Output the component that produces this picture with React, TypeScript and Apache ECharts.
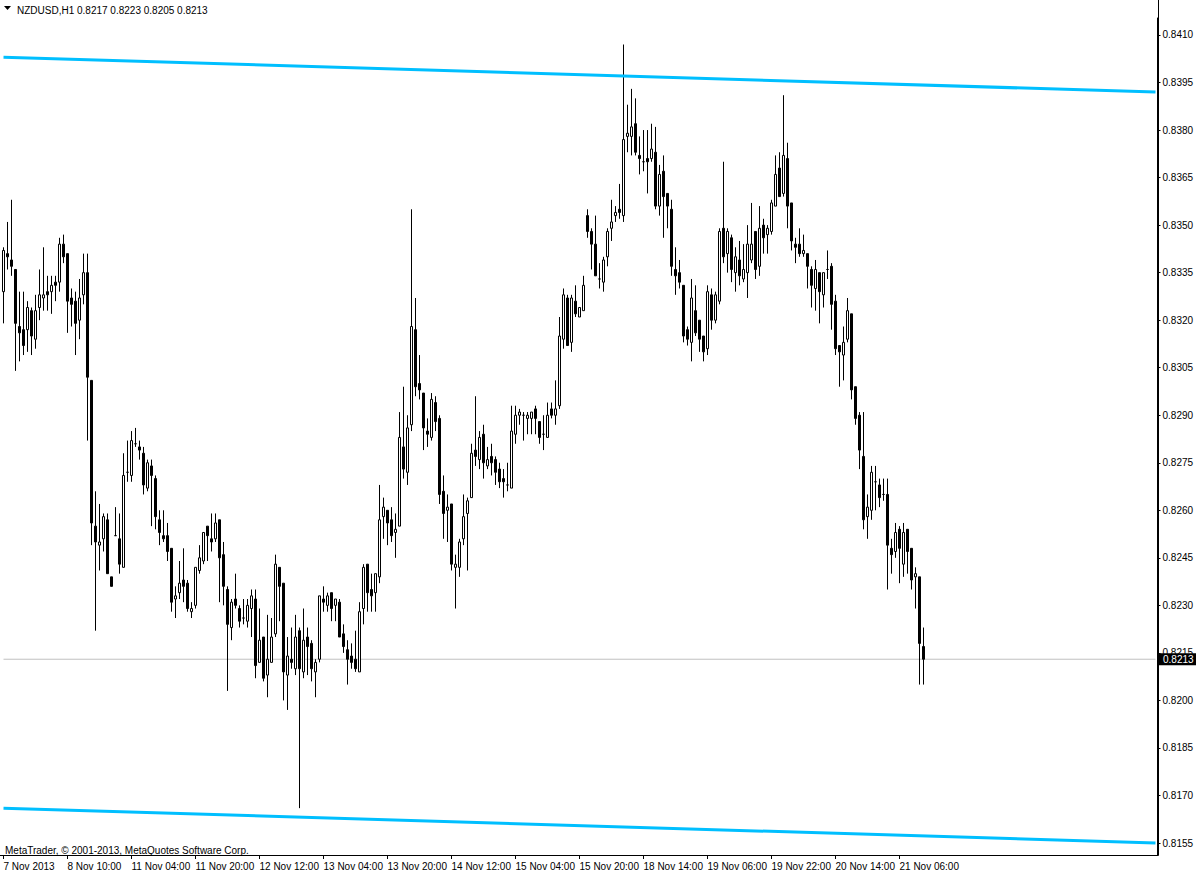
import { useEffect, useRef } from 'react';
import * as echarts from 'echarts';

// ---- data (NZDUSD, H1) ----
const open = [
  0.8329,0.8341,0.8339,0.8336,0.8318,0.8317,0.8317,0.8323,0.8314,0.8324,
  0.8327,0.8329,0.8329,0.8332,0.8332,0.8344,0.8341,0.8327,0.8326,0.8320,
  0.8328,0.8335,0.8301,0.8255,0.8249,0.8251,0.8257,0.8239,0.8252,0.8251,
  0.8242,0.8272,0.8271,0.8281,0.8280,0.8278,0.8267,0.8274,0.8270,0.8257,
  0.8252,0.8252,0.8248,0.8232,0.8234,0.8238,0.8237,0.8228,0.8230,0.8241,
  0.8244,0.8255,0.8251,0.8251,0.8257,0.8246,0.8235,0.8223,0.8232,0.8229,
  0.8226,0.8225,0.8229,0.8232,0.8212,0.8220,0.8208,0.8212,0.8221,0.8242,
  0.8237,0.8208,0.8213,0.8210,0.8222,0.8209,0.8220,0.8218,0.8209,0.8213,
  0.8232,0.8230,0.8234,0.8230,0.8231,0.8221,0.8216,0.8214,0.8213,0.8209,
  0.8229,0.8243,0.8235,0.8234,0.8239,0.8258,0.8260,0.8257,0.8253,0.8255,
  0.8280,0.8272,0.8287,0.8317,0.8300,0.8297,0.8285,0.8283,0.8294,0.8289,
  0.8266,0.8260,0.8262,0.8242,0.8242,0.8251,0.8259,0.8264,0.8279,0.8276,
  0.8284,0.8274,0.8277,0.8276,0.8273,0.8270,0.8268,0.8267,0.8284,0.8290,
  0.8290,0.8289,0.8289,0.8292,0.8288,0.8284,0.8283,0.8292,0.8290,0.8293,
  0.8314,0.8327,0.8313,0.8326,0.8321,0.8323,0.8353,0.8348,0.8344,0.8333,
  0.8332,0.8340,0.8349,0.8353,0.8355,0.8353,0.8378,0.8378,0.8382,0.8372,
  0.8370,0.8371,0.8371,0.8373,0.8356,0.8367,0.8360,0.8355,0.8336,0.8335,
  0.8331,0.8317,0.8313,0.8323,0.8320,0.8315,0.8311,0.8328,0.8320,0.8326,
  0.8349,0.8341,0.8346,0.8335,0.8339,0.8333,0.8335,0.8339,0.8348,0.8337,
  0.8350,0.8347,0.8348,0.8356,0.8368,0.8360,0.8371,0.8357,0.8344,0.8344,
  0.8341,0.8341,0.8336,0.8330,0.8335,0.8328,0.8336,0.8337,0.8326,0.8312,
  0.8309,0.8314,0.8322,0.8299,0.8290,0.8277,0.8258,0.8260,0.8269,0.8268,
  0.8265,0.8265,0.8248,0.8247,0.8254,0.8243,0.8254,0.8248,0.8239,0.8239,
  0.8217,
];
const high = [
  0.8343,0.8351,0.8358,0.8336,0.8329,0.8329,0.8326,0.8324,0.8328,0.8336,
  0.8343,0.8334,0.8334,0.8334,0.8346,0.8347,0.8341,0.8330,0.8329,0.8333,
  0.8341,0.8341,0.8301,0.8266,0.8262,0.8259,0.8259,0.8239,0.8261,0.8259,
  0.8278,0.8282,0.8285,0.8286,0.8282,0.8280,0.8276,0.8276,0.8271,0.8260,
  0.8260,0.8256,0.8248,0.8236,0.8244,0.8248,0.8238,0.8231,0.8242,0.8249,
  0.8253,0.8255,0.8259,0.8259,0.8257,0.8250,0.8236,0.8232,0.8240,0.8230,
  0.8232,0.8232,0.8235,0.8235,0.8229,0.8220,0.8227,0.8226,0.8246,0.8242,
  0.8237,0.8220,0.8223,0.8227,0.8223,0.8229,0.8223,0.8219,0.8213,0.8233,
  0.8236,0.8234,0.8234,0.8232,0.8232,0.8224,0.8219,0.8218,0.8222,0.8231,
  0.8243,0.8243,0.8240,0.8240,0.8268,0.8264,0.8260,0.8261,0.8259,0.8291,
  0.8299,0.8290,0.8355,0.8327,0.8309,0.8297,0.8289,0.8297,0.8296,0.8290,
  0.8271,0.8265,0.8262,0.8246,0.8251,0.8265,0.8264,0.8281,0.8296,0.8285,
  0.8287,0.8280,0.8281,0.8277,0.8275,0.8273,0.8275,0.8293,0.8293,0.8292,
  0.8291,0.8291,0.8291,0.8293,0.8288,0.8290,0.8294,0.8294,0.8301,0.8321,
  0.8330,0.8328,0.8328,0.8331,0.8324,0.8334,0.8355,0.8349,0.8353,0.8338,
  0.8340,0.8349,0.8358,0.8356,0.8363,0.8407,0.8388,0.8393,0.8390,0.8378,
  0.8380,0.8380,0.8382,0.8381,0.8369,0.8372,0.8360,0.8358,0.8343,0.8339,
  0.8331,0.8318,0.8333,0.8331,0.8320,0.8315,0.8331,0.8330,0.8329,0.8349,
  0.8370,0.8349,0.8347,0.8343,0.8345,0.8344,0.8350,0.8357,0.8348,0.8356,
  0.8352,0.8350,0.8358,0.8372,0.8373,0.8391,0.8376,0.8357,0.8346,0.8349,
  0.8347,0.8341,0.8337,0.8339,0.8335,0.8335,0.8342,0.8338,0.8328,0.8312,
  0.8318,0.8327,0.8322,0.8299,0.8291,0.8291,0.8265,0.8274,0.8274,0.8270,
  0.8270,0.8270,0.8251,0.8256,0.8255,0.8256,0.8254,0.8248,0.8242,0.8239,
  0.8223,
];
const low = [
  0.8319,0.8336,0.8334,0.8304,0.8307,0.8309,0.8310,0.8309,0.8311,0.8320,
  0.8323,0.8323,0.8322,0.8326,0.8329,0.8338,0.8316,0.8318,0.8309,0.8314,
  0.8325,0.8282,0.8249,0.8222,0.8241,0.8247,0.8240,0.8236,0.8252,0.8240,
  0.8242,0.8269,0.8269,0.8280,0.8276,0.8265,0.8266,0.8255,0.8254,0.8249,
  0.8250,0.8244,0.8228,0.8226,0.8232,0.8231,0.8228,0.8226,0.8229,0.8240,
  0.8243,0.8244,0.8247,0.8250,0.8231,0.8230,0.8203,0.8219,0.8229,0.8223,
  0.8224,0.8223,0.8220,0.8207,0.8212,0.8206,0.8201,0.8212,0.8220,0.8225,
  0.8200,0.8197,0.8210,0.8208,0.8166,0.8207,0.8208,0.8206,0.8201,0.8212,
  0.8228,0.8228,0.8225,0.8225,0.8220,0.8215,0.8205,0.8210,0.8209,0.8209,
  0.8224,0.8228,0.8228,0.8228,0.8237,0.8251,0.8249,0.8250,0.8245,0.8255,
  0.8270,0.8268,0.8285,0.8296,0.8295,0.8279,0.8280,0.8282,0.8285,0.8262,
  0.8251,0.8250,0.8241,0.8229,0.8239,0.8249,0.8241,0.8264,0.8274,0.8273,
  0.8270,0.8273,0.8271,0.8268,0.8267,0.8264,0.8266,0.8267,0.8281,0.8287,
  0.8282,0.8284,0.8284,0.8284,0.8281,0.8279,0.8283,0.8289,0.8287,0.8292,
  0.8311,0.8312,0.8310,0.8321,0.8321,0.8323,0.8346,0.8336,0.8334,0.8330,
  0.8329,0.8337,0.8345,0.8351,0.8352,0.8351,0.8373,0.8372,0.8372,0.8366,
  0.8367,0.8360,0.8370,0.8355,0.8353,0.8346,0.8349,0.8334,0.8328,0.8330,
  0.8313,0.8312,0.8307,0.8315,0.8310,0.8307,0.8309,0.8317,0.8319,0.8325,
  0.8338,0.8335,0.8332,0.8329,0.8331,0.8332,0.8327,0.8338,0.8333,0.8334,
  0.8341,0.8341,0.8347,0.8356,0.8359,0.8359,0.8349,0.8342,0.8338,0.8340,
  0.8340,0.8330,0.8324,0.8323,0.8319,0.8324,0.8333,0.8317,0.8309,0.8299,
  0.8301,0.8313,0.8295,0.8287,0.8273,0.8254,0.8251,0.8257,0.8260,0.8261,
  0.8263,0.8235,0.8240,0.8245,0.8237,0.8239,0.8240,0.8235,0.8229,0.8205,
  0.8205,
];
const close = [
  0.8342,0.8340,0.8337,0.8319,0.8316,0.8312,0.8324,0.8315,0.8323,0.8328,
  0.8328,0.8328,0.8331,0.8331,0.8344,0.8340,0.8326,0.8325,0.8319,0.8327,
  0.8335,0.8302,0.8256,0.8250,0.8250,0.8258,0.8240,0.8236,0.8252,0.8243,
  0.8271,0.8272,0.8282,0.8281,0.8279,0.8268,0.8275,0.8271,0.8258,0.8253,
  0.8251,0.8247,0.8231,0.8233,0.8237,0.8236,0.8229,0.8229,0.8242,0.8245,
  0.8253,0.8252,0.8250,0.8256,0.8245,0.8236,0.8224,0.8231,0.8230,0.8225,
  0.8226,0.8230,0.8233,0.8211,0.8219,0.8207,0.8213,0.8220,0.8243,0.8236,
  0.8209,0.8214,0.8212,0.8220,0.8210,0.8219,0.8217,0.8210,0.8212,0.8233,
  0.8231,0.8233,0.8229,0.8232,0.8220,0.8217,0.8213,0.8212,0.8210,0.8228,
  0.8242,0.8234,0.8233,0.8240,0.8257,0.8261,0.8256,0.8252,0.8254,0.8283,
  0.8273,0.8286,0.8318,0.8299,0.8298,0.8286,0.8284,0.8295,0.8288,0.8265,
  0.8259,0.8261,0.8243,0.8243,0.8250,0.8258,0.8263,0.8278,0.8277,0.8283,
  0.8275,0.8276,0.8275,0.8272,0.8269,0.8269,0.8268,0.8285,0.8290,0.8291,
  0.8290,0.8290,0.8291,0.8289,0.8283,0.8284,0.8290,0.8290,0.8292,0.8315,
  0.8328,0.8312,0.8327,0.8322,0.8324,0.8331,0.8348,0.8344,0.8334,0.8333,
  0.8339,0.8348,0.8351,0.8354,0.8354,0.8377,0.8379,0.8381,0.8373,0.8371,
  0.8370,0.8370,0.8374,0.8356,0.8366,0.8359,0.8356,0.8337,0.8334,0.8332,
  0.8315,0.8314,0.8327,0.8316,0.8314,0.8310,0.8329,0.8320,0.8328,0.8348,
  0.8340,0.8348,0.8336,0.8340,0.8334,0.8336,0.8344,0.8344,0.8336,0.8349,
  0.8346,0.8349,0.8357,0.8366,0.8359,0.8372,0.8356,0.8345,0.8343,0.8341,
  0.8342,0.8337,0.8331,0.8336,0.8329,0.8335,0.8336,0.8325,0.8311,0.8310,
  0.8313,0.8323,0.8298,0.8289,0.8279,0.8257,0.8261,0.8272,0.8269,0.8264,
  0.8265,0.8249,0.8246,0.8253,0.8248,0.8253,0.8247,0.8238,0.8240,0.8218,
  0.8213,
];

const timeLabels = [
  '7 Nov 2013', '8 Nov 10:00', '11 Nov 04:00', '11 Nov 20:00', '12 Nov 12:00',
  '13 Nov 04:00', '13 Nov 20:00', '14 Nov 12:00', '15 Nov 04:00', '15 Nov 20:00',
  '18 Nov 14:00', '19 Nov 06:00', '19 Nov 22:00', '20 Nov 14:00', '21 Nov 06:00',
];
const LABEL_STEP = 16; // one time label every 16 bars
const SLOT_COUNT = 289; // bars + empty chart shift on the right

const priceTicks = [
  0.8410, 0.8395, 0.8380, 0.8365, 0.8350, 0.8335, 0.8320, 0.8305, 0.8290,
  0.8275, 0.8260, 0.8245, 0.8230, 0.8215, 0.8200, 0.8185, 0.8170, 0.8155,
];
const yRange = [0.8151213, 0.8415365];

const channelUpper = [0.8403, 0.8392];
const channelLower = [0.8166, 0.8155];

const symbol = 'NZDUSD,H1';
const copyright = 'MetaTrader, © 2001-2013, MetaQuotes Software Corp.';

const FONT = '"Liberation Sans", Arial, sans-serif';

export default function App() {
  const ref = useRef<HTMLDivElement>(null);

  useEffect(() => {
    const el = ref.current;
    if (!el) return;
    const chart = echarts.init(el, null, { renderer: 'svg' });

    const last = open.length - 1;
    const bid = close[last];
    const categories = Array.from({ length: SLOT_COUNT }, (_, i) => String(i));
    const ohlc = open.map((o, i) => [o, close[i], low[i], high[i]]);
    const showLabel = (i: number) => i % LABEL_STEP === 0 && i / LABEL_STEP < timeLabels.length;

    chart.setOption({
      animation: false,
      backgroundColor: '#ffffff',
      textStyle: { fontFamily: FONT },
      grid: { left: 1.5, right: 40.5, top: 18, bottom: 21, containLabel: false },
      xAxis: {
        type: 'category',
        data: categories,
        boundaryGap: true,
        axisLine: { show: true, lineStyle: { color: '#000', width: 1 } },
        axisTick: { show: true, alignWithLabel: true, length: 4, interval: showLabel, lineStyle: { color: '#000' } },
        axisLabel: {
          interval: showLabel,
          formatter: (_v: string, i: number) => timeLabels[i / LABEL_STEP] ?? '',
          align: 'left',
          margin: 6,
          color: '#000',
          fontSize: 10,
          fontFamily: FONT,
        },
        splitLine: { show: false },
      },
      yAxis: {
        type: 'value',
        position: 'right',
        min: yRange[0],
        max: yRange[1],
        axisLine: { show: true, lineStyle: { color: '#000', width: 1 } },
        axisTick: { show: true, length: 3, customValues: priceTicks, lineStyle: { color: '#000' } },
        axisLabel: {
          customValues: priceTicks,
          formatter: (v: number) => v.toFixed(4),
          margin: 5,
          color: '#000',
          fontSize: 10,
          fontFamily: FONT,
        },
        splitLine: { show: false },
      },
      series: [
        {
          type: 'line',
          data: [[0, bid], [SLOT_COUNT - 1, bid]],
          symbol: 'none',
          z: 1,
          silent: true,
          lineStyle: { color: '#c0c0c0', width: 1, type: 'solid' },
        },
        {
          type: 'candlestick',
          data: ohlc,
          barWidth: 2,
          z: 2,
          itemStyle: {
            color: '#ffffff',
            color0: '#000000',
            borderColor: '#000000',
            borderColor0: '#000000',
            borderColorDoji: '#000000',
            borderWidth: 1,
          },
        },
        {
          type: 'line',
          data: [[0, channelUpper[0]], [SLOT_COUNT - 1, channelUpper[1]]],
          symbol: 'none',
          z: 3,
          lineStyle: { color: '#00BFFF', width: 3 },
        },
        {
          type: 'line',
          data: [[0, channelLower[0]], [SLOT_COUNT - 1, channelLower[1]]],
          symbol: 'none',
          z: 3,
          lineStyle: { color: '#00BFFF', width: 3 },
        },
      ],
    });

    const bidY = (chart.convertToPixel({ gridIndex: 0 }, [0, bid]) as number[])[1];
    const fmt = (v: number) => v.toFixed(4);

    chart.setOption({
      graphic: [
        { type: 'line', shape: { x1: 1158.5, y1: 0, x2: 1158.5, y2: 855.5 }, style: { stroke: '#000', lineWidth: 1 }, z: 50 },
        { type: 'line', shape: { x1: 0, y1: 855.5, x2: 1158.5, y2: 855.5 }, style: { stroke: '#000', lineWidth: 1 }, z: 50 },
        { type: 'polygon', shape: { points: [[4, 6], [11, 6], [7.5, 10]] }, style: { fill: '#000' }, z: 50 },
        {
          type: 'text', x: 17, y: 10,
          style: { text: symbol, fill: '#000', font: `10px ${FONT}`, verticalAlign: 'middle' }, z: 50,
        },
        {
          type: 'text', x: 77, y: 10,
          style: {
            text: [open[last], high[last], low[last], close[last]].map(fmt).join(' '),
            fill: '#000', font: `10px ${FONT}`, verticalAlign: 'middle',
          },
          z: 50,
        },
        {
          type: 'text', x: 5, y: 850,
          style: { text: copyright, fill: '#000', font: `10px ${FONT}`, verticalAlign: 'middle' }, z: 50,
        },
        { type: 'rect', shape: { x: 1159, y: bidY - 6, width: 37, height: 12 }, style: { fill: '#000' }, z: 60 },
        {
          type: 'text', x: 1163, y: bidY,
          style: { text: fmt(bid), fill: '#fff', font: `10px ${FONT}`, verticalAlign: 'middle' }, z: 61,
        },
      ],
    });

    return () => chart.dispose();
  }, []);

  return (
    <div
      ref={ref}
      style={{ position: 'absolute', left: 0, top: 0, width: 1198, height: 876, background: '#fff' }}
    />
  );
}
